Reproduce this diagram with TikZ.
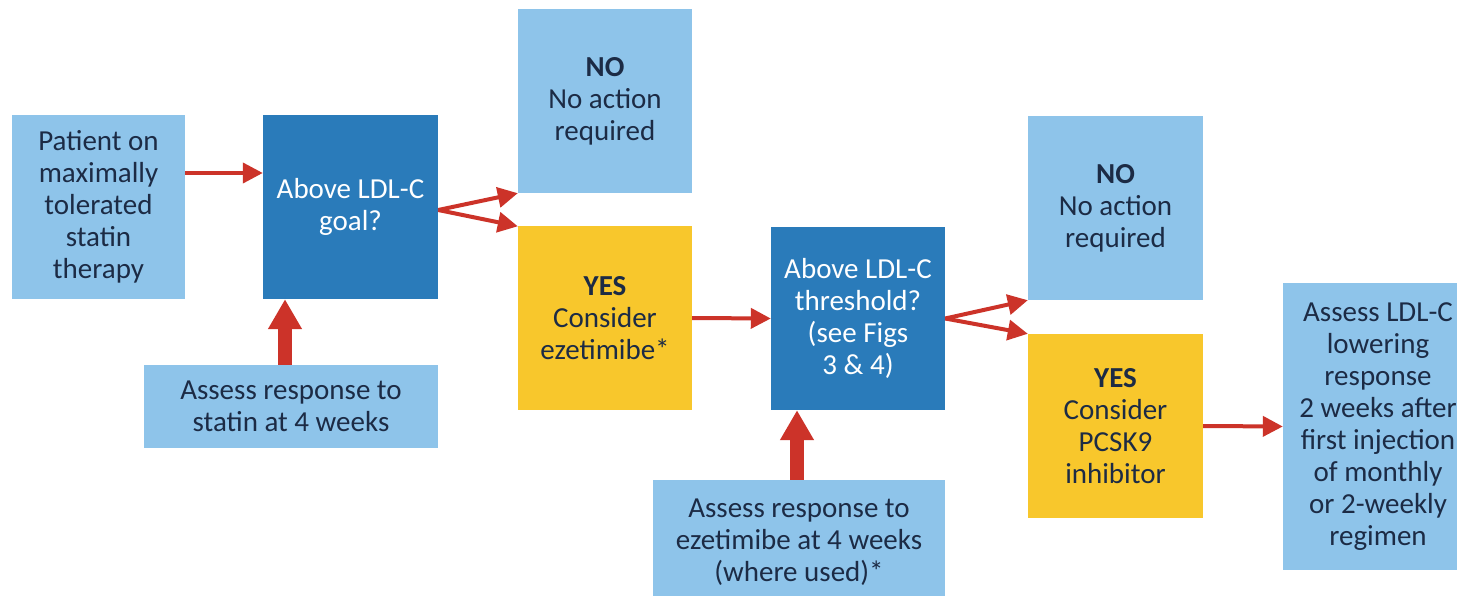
\documentclass[tikz,border=0pt]{standalone}
\usepackage{fontspec}
\setmainfont{Carlito}
\usetikzlibrary{arrows.meta,calc}
\definecolor{lblue}{HTML}{8EC4EA}
\definecolor{dblue}{HTML}{2A7BBA}
\definecolor{ylw}{HTML}{F8C72C}
\definecolor{arr}{HTML}{CC3329}
\definecolor{txt}{HTML}{1C2B45}
\tikzset{
  box/.style={rectangle, inner sep=0pt, align=center, text=txt,
    font=\fontsize{29}{32}\selectfont},
  light/.style={box, fill=lblue},
  dark/.style={box, fill=dblue, text=white},
  yel/.style={box, fill=ylw},
  thin/.style={draw=arr, line width=4pt, -{Triangle[length=20pt,width=20pt]}},
  fat/.style={draw=arr, line width=14pt, -{Triangle[length=30pt,width=32pt]}},
}
\begin{document}
\begin{tikzpicture}[x=1pt,y=-1pt]
\useasboundingbox[fill=white] (0,0) rectangle (1457,596);
\node[light, minimum width=173pt, minimum height=184pt] (pat) at (98.5,207) {Patient on\\maximally\\tolerated\\statin\\therapy};
\node[dark, minimum width=175pt, minimum height=184pt] (goal) at (350.5,207) {Above LDL-C\\goal?};
\node[light, minimum width=174pt, minimum height=184pt] (no1) at (605,101) {\textbf{NO}\\No action\\required};
\node[yel, minimum width=174pt, minimum height=183pt] (yes1) at (605,318) {\textbf{YES}\\Consider\\ezetimibe*};
\node[light, minimum width=294pt, minimum height=83pt] (stat) at (291,406.5) {Assess response to\\statin at 4 weeks};
\node[dark, minimum width=174pt, minimum height=183pt] (thr) at (858,318.5) {Above LDL-C\\threshold?\\(see Figs\\3 \& 4)};
\node[light, minimum width=175pt, minimum height=184pt] (no2) at (1115.5,208) {\textbf{NO}\\No action\\required};
\node[yel, minimum width=175pt, minimum height=184pt] (yes2) at (1115.5,426) {\textbf{YES}\\Consider\\PCSK9\\inhibitor};
\node[light, minimum width=292pt, minimum height=124pt] (ezas) at (799,542) {Assess response to\\ezetimibe at 4 weeks\\(where used)*};
\node[light, minimum width=190pt, minimum height=287pt] (ldl) at (1378,426.5) {Assess LDL-C\\lowering\\response\\2 weeks after\\first injection\\of monthly\\or 2-weekly\\regimen};

\draw[thin] ([yshift=34pt]pat.east) -- ([yshift=34pt]goal.west);
\draw[thin] ([yshift=-3pt]goal.east) -- (no1.south west);
\draw[thin] ([yshift=-3pt]goal.east) -- (yes1.north west);
\draw[thin] (yes1.east) -- (thr.west);
\draw[thin] (thr.east) -- (no2.south west);
\draw[thin] (thr.east) -- (yes2.north west);
\draw[thin] (yes2.east) -- (ldl.west);
\draw[fat] ([xshift=-6pt]stat.north) -- ([xshift=-6pt]stat.north |- goal.south);
\draw[fat] ([xshift=-2pt]ezas.north) -- ([xshift=-2pt]ezas.north |- thr.south);
\end{tikzpicture}
\end{document}
